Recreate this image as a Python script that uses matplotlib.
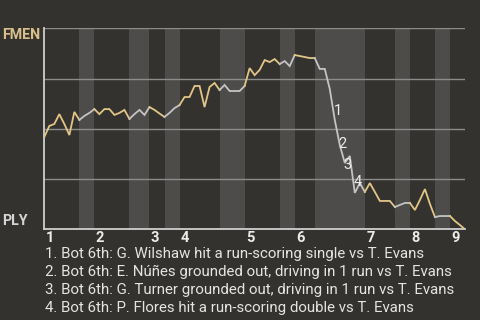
import numpy as np
import matplotlib.pyplot as plt

plt.rcParams['font.family'] = ['Roboto', 'DejaVu Sans']

# plays in each half inning: T1, B1, T2, B2, ... T9
plays = [7, 3, 7, 4, 3, 3, 8, 5, 7, 3, 4, 10, 6, 3, 5, 3, 3]
# FMEN win probability (%) before the first play and after each play
wp = [45.9,
      51.4, 52.4, 57.3, 52.4, 46.9, 58.4, 54.4,        # T1
      56.4, 57.9, 59.8,                                # B1
      57.3, 59.8, 59.8, 56.9, 57.9, 59.4, 54.9,        # T2
      57.3, 59.4, 56.9, 60.8,                          # B2
      59.4, 57.6, 55.9,                                # T3
      57.9, 60.3, 61.8,                                # B3
      65.8, 65.8, 71.3, 71.3, 60.8, 70.8, 72.8, 69.3,  # T4
      71.8, 68.8, 68.8, 68.8, 71.3,                    # B4
      80.2, 76.7, 79.3, 84.2, 83.2, 84.7, 82.2,        # T5
      83.7, 81.2, 86.7,                                # B5
      86.2, 85.7, 85.2, 85.2,                          # T6
      79.8, 79.8, 69.8, 54.4, 41.9, 33.0, 36.5, 18.1, 23.0, 18.6,  # B6
      23.0, 18.6, 14.1, 14.1, 14.1, 11.1,              # T7
      12.1, 13.1, 13.1,                                # B7
      9.6, 14.6, 20.0, 12.6, 6.1,                      # T8
      6.6, 6.6, 6.6,                                   # B8
      4.1, 2.1, 0.0]                                   # T9

innings = ['1', '2', '3', '4', '5', '6', '7', '8', '9']
away, home = 'FMEN', 'PLY'

# key plays marked on the chart
event_play = [58, 59, 60, 62]
event_label_y = [58.8, 42.4, 32.0, 23.5]
event_text = [
    '1. Bot 6th: G. Wilshaw hit a run-scoring single vs T. Evans',
    '2. Bot 6th: E. Núñes grounded out, driving in 1 run vs T. Evans',
    '3. Bot 6th: G. Turner grounded out, driving in 1 run vs T. Evans',
    '4. Bot 6th: P. Flores hit a run-scoring double vs T. Evans',
]

bg = '#34322e'
gold = '#e2c687'
grey = '#c4c4c4'

fig = plt.figure(figsize=(4.8, 3.2), dpi=100, facecolor=bg)
ax = fig.add_axes([44.3 / 480, 1 - 229.3 / 320, (465 - 44.3) / 480, 201 / 320])
ax.set_facecolor(bg)

bounds = np.concatenate([[0], np.cumsum(plays)])
y = np.array(wp) / 100

for k in range(len(plays)):
    a, b = bounds[k], bounds[k + 1]
    if k % 2 == 1:
        ax.axvspan(a, b, color='#4d4c4a', lw=0, zorder=0)
    xs = np.arange(a, b + 1)
    ax.plot(xs, y[a:b + 1], color=gold if k % 2 == 0 else grey, lw=1.3,
            solid_joinstyle='miter', zorder=3)

for g in [0.25, 0.5, 0.75, 1.0]:
    ax.axhline(g, color='#8c8c8c', lw=1, zorder=1)

for i, p in enumerate(event_play):
    ax.text(p + 0.6, event_label_y[i] / 100, str(i + 1), color='#ececec',
            fontsize=10.5, ha='center', va='center', zorder=4)

ax.set_xlim(0, bounds[-1])
ax.set_ylim(0, 1)
ax.set_xticks([])
ax.set_yticks([])
for s in ['top', 'right']:
    ax.spines[s].set_visible(False)
for s in ['left', 'bottom']:
    ax.spines[s].set_color('#cfcfcf')
    ax.spines[s].set_linewidth(1.3)

# inning numbers at the start of each inning
for n, lab in enumerate(innings):
    ax.text(bounds[2 * n] + 0.3, -0.065, lab, color='#ececec', fontsize=10.5,
            fontweight='bold', ha='left', va='baseline')

fig.text(2.5 / 480, 1 - 39 / 320, away, color='#d9c08a', fontsize=10.3,
         fontweight='bold', va='baseline')
fig.text(2.5 / 480, 1 - 225 / 320, home, color='#d4d4d4', fontsize=10.3,
         fontweight='bold', va='baseline')

for i, t in enumerate(event_text):
    fig.text(45 / 480, 1 - (258 + 17.9 * i) / 320, t, color='#e4e4e4',
             fontsize=10.8, va='baseline')

fig.savefig('out.png', dpi=100, facecolor=bg)
